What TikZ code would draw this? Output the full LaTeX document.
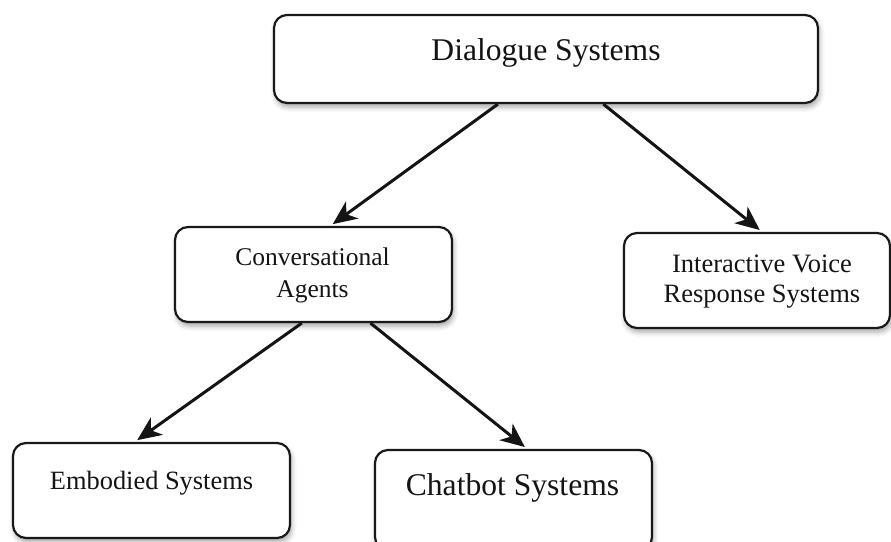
\documentclass[tikz,border=0pt]{standalone}
\usepackage{fontspec}
\setmainfont{Liberation Serif}
\usetikzlibrary{arrows.meta,shadows.blur,calc}
\begin{document}
\begin{tikzpicture}[x=1pt,y=-1pt,
  box/.style={draw=black!90, line width=2.2pt, rounded corners=13pt, fill=white,
    blur shadow={shadow xshift=1.5pt,shadow yshift=-4pt,shadow blur radius=5pt,shadow opacity=35}},
  link/.style={draw=black!92, line width=3pt, -{Stealth[length=24pt,width=21pt,inset=7pt]}, shorten >=3pt},
  lbl/.style={anchor=base, inner sep=0pt, align=center, text=black!92},
  bigtext/.style={font=\fontsize{31.6}{38}\selectfont},
  midtext/.style={font=\fontsize{25.5}{32}\selectfont},
  ivrtext/.style={font=\fontsize{26.5}{30}\selectfont},
  embtext/.style={font=\fontsize{26.4}{32}\selectfont}
]
\useasboundingbox (0,0) rectangle (891,541);

% boxes
\node[box, minimum width=544pt, minimum height=88pt] (top) at (546,59) {};
\node[box, minimum width=277pt, minimum height=95pt] (conv) at (313.5,274.5) {};
\node[box, minimum width=266pt, minimum height=95pt] (ivr) at (757,280.5) {};
\node[box, minimum width=277pt, minimum height=95pt] (emb) at (151.5,490.5) {};
\node[box, minimum width=277pt, minimum height=100pt] (chat) at (513.5,500) {};

% connectors
\draw[link] ($(top.south west)!0.412!(top.south east)$) -- ($(conv.north west)!0.56!(conv.north east)$);
\draw[link] ($(top.south west)!0.605!(top.south east)$) -- ($(ivr.north west)!0.519!(ivr.north east)$);
\draw[link] ($(conv.south west)!0.458!(conv.south east)$) -- ($(emb.north west)!0.44!(emb.north east)$);
\draw[link] ($(conv.south west)!0.704!(conv.south east)$) -- ($(chat.north west)!0.549!(chat.north east)$);

% labels (multi-line labels sit on the baseline of their last line)
\node[lbl, bigtext] (t0) at (546,60) {Dialogue Systems};
\node[lbl, midtext] (t1) at (312.5,297) {Conversational\\Agents};
\node[lbl, ivrtext] (t2) at (762,302) {Interactive Voice\\Response Systems};
\node[lbl, embtext] (t3) at (151.5,489) {Embodied Systems};
\node[lbl, bigtext] (t4) at (512.5,495) {Chatbot Systems};
\end{tikzpicture}
\end{document}
